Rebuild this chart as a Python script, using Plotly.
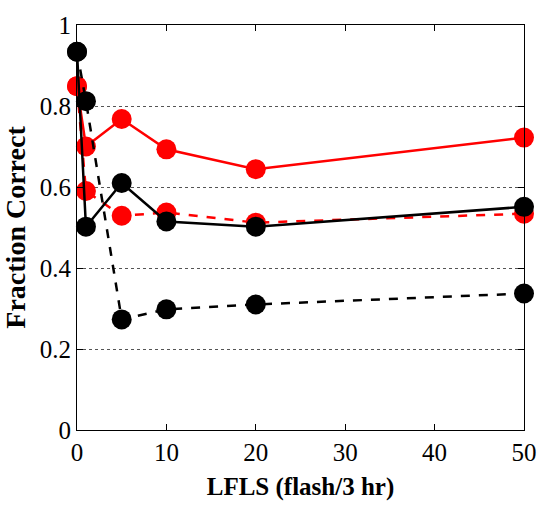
import plotly.graph_objects as go

lfls = [0, 1, 5, 10, 20, 50]
red_solid = [0.849, 0.700, 0.768, 0.693, 0.644, 0.722]
red_dashed = [0.849, 0.590, 0.529, 0.537, 0.512, 0.534]
black_solid = [0.934, 0.502, 0.610, 0.515, 0.502, 0.551]
black_dashed = [0.934, 0.812, 0.273, 0.298, 0.310, 0.337]

x_ticks = [0, 10, 20, 30, 40, 50]
y_ticks = [0, 0.2, 0.4, 0.6, 0.8, 1]
y_tick_text = ["0", "0.2", "0.4", "0.6", "0.8", "1"]

fig = go.Figure()

series = [
    (red_dashed, "red", "dash", 2.5),
    (red_solid, "red", "solid", 2.5),
    (black_dashed, "black", "dash", 2.5),
    (black_solid, "black", "solid", 2.5),
]
for ys, color, dash, w in series:
    fig.add_trace(go.Scatter(
        x=lfls, y=ys, mode="lines+markers",
        line=dict(color=color, dash=dash, width=w),
        marker=dict(color=color, size=20, line=dict(width=0)),
        cliponaxis=False, showlegend=False,
    ))

font = "Liberation Serif"
fig.update_layout(
    width=549, height=519,
    margin=dict(l=76, r=16, t=20, b=89),
    paper_bgcolor="white", plot_bgcolor="white",
    font=dict(family=font, color="black"),
)
fig.update_xaxes(
    range=[0, 50], tickvals=x_ticks, ticks="inside", ticklen=6,
    tickcolor="black", showline=True, linecolor="black", linewidth=1,
    mirror="ticks", showgrid=False, zeroline=False,
    tickfont=dict(size=25, family=font),
    title=dict(text="<b>LFLS (flash/3 hr)</b>", font=dict(size=25, family=font), standoff=12),
)
fig.update_yaxes(
    range=[0, 1], tickvals=y_ticks, ticktext=y_tick_text, ticks="inside", ticklen=6,
    tickcolor="black", showline=True, linecolor="black", linewidth=1,
    mirror="ticks", showgrid=True, gridcolor="#555555", griddash="dot", gridwidth=1,
    zeroline=False,
    tickfont=dict(size=25, family=font),
    title=dict(text="<b>Fraction Correct</b>", font=dict(size=28, family=font), standoff=8),
)

fig.write_html("out.html")
